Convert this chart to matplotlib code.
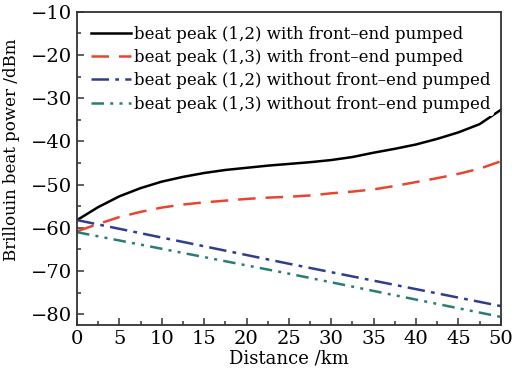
import matplotlib
matplotlib.use("Agg")
import matplotlib.pyplot as plt
from matplotlib.ticker import MultipleLocator

plt.rcParams['font.family'] = ['DejaVu Serif']
plt.rcParams['mathtext.fontset'] = 'dejavuserif'

# values (km, dBm)
dist_pumped = [0, 2.5, 5, 7.5, 10, 12.5, 15, 17.5, 20, 22.5, 25, 27.5, 30,
               32.5, 35, 37.5, 40, 42.5, 45, 47.5, 50]
peak12_pumped = [-58.2, -55.2, -52.7, -50.8, -49.3, -48.2, -47.3, -46.6,
                 -46.1, -45.6, -45.2, -44.8, -44.3, -43.6, -42.6, -41.7,
                 -40.7, -39.4, -37.9, -36.0, -32.7]
peak13_pumped = [-60.8, -59.1, -57.5, -56.3, -55.3, -54.6, -54.1, -53.7,
                 -53.3, -53.0, -52.8, -52.5, -52.0, -51.6, -51.1, -50.3,
                 -49.4, -48.5, -47.5, -46.3, -44.6]
dist_plain = [0, 25, 50]
peak12_plain = [-58.2, -68.3, -78.1]
peak13_plain = [-61.0, -70.6, -80.6]

labels = ["beat peak (1,2) with front\u2013end pumped",
          "beat peak (1,3) with front\u2013end pumped",
          "beat peak (1,2) without front\u2013end pumped",
          "beat peak (1,3) without front\u2013end pumped"]

fig = plt.figure(figsize=(5.26, 3.82), dpi=100)
ax = fig.add_axes([0.1464, 0.149, 0.8056, 0.82])

ax.plot(dist_pumped, peak12_pumped, color='black', lw=1.8, label=labels[0])
ax.plot(dist_pumped, peak13_pumped, color='#e8452f', lw=1.8,
        dashes=(7, 4), label=labels[1])
ax.plot(dist_plain, peak12_plain, color='#2f3d8f', lw=1.8,
        dashes=(7, 2.5, 1.5, 2.5), label=labels[2])
ax.plot(dist_plain, peak13_plain, color='#2a7d72', lw=1.8,
        dashes=(5, 2.5, 1.2, 2.5, 1.2, 2.5), label=labels[3])

ax.set_xlim(0, 50)
ax.set_ylim(-82.5, -10)
ax.xaxis.set_major_locator(MultipleLocator(5))
ax.xaxis.set_minor_locator(MultipleLocator(2.5))
ax.yaxis.set_major_locator(MultipleLocator(10))
ax.yaxis.set_minor_locator(MultipleLocator(5))
ax.tick_params(which='both', direction='in', top=False, right=False,
               labelsize=14, color='#444444', width=1.2)
ax.tick_params(which='major', length=5)
ax.tick_params(which='minor', length=3)
for s in ax.spines.values():
    s.set_linewidth(1.3)
    s.set_color('#333333')

ax.set_xlabel("Distance /km", fontsize=13, labelpad=1)
ax.set_ylabel("Brillouin beat power /dBm", fontsize=12, labelpad=4)
ax.yaxis.set_label_coords(-0.135, 0.56)

leg = ax.legend(loc='upper left', fontsize=12, frameon=True,
                edgecolor='none', framealpha=1,
                bbox_to_anchor=(0.025, 0.967), borderaxespad=0,
                handlelength=2.4, handletextpad=0.2, labelspacing=0.38,
                borderpad=0.2)

fig.savefig("out.png", dpi=100)
